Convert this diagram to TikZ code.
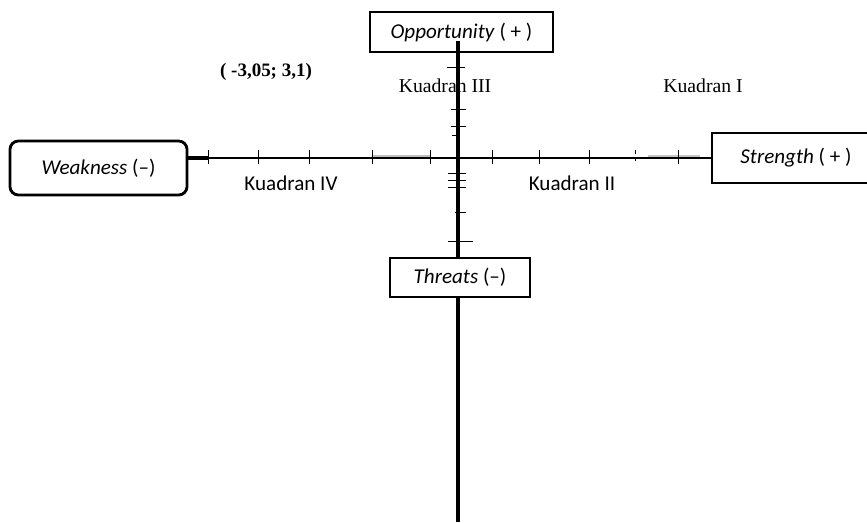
\documentclass[tikz,border=0pt]{standalone}
\usepackage{fontspec}
\setmainfont{Liberation Serif}
\newfontfamily\calibri{Carlito}
\usetikzlibrary{positioning}

\begin{document}
\begin{tikzpicture}[x=0.025cm,y=-0.025cm,
    kotak/.style={draw, line width=2pt, fill=white, inner sep=0pt, font=\calibri\fontsize{15}{17}\selectfont},
    tickmark/.style={line width=0.7pt},
    teks/.style={font=\fontsize{14}{16}\selectfont},
    teksb/.style={font=\calibri\fontsize{15}{17}\selectfont}]
  \useasboundingbox (0,0) rectangle (867,522);

  % Label kuadran
  \node[font=\bfseries\fontsize{13.5}{15}\selectfont] (koord) at (266,72) {( -3,05; 3,1)};
  \node[teks] (k3) at (445,86) {Kuadran III};
  \node[teks] (k1) at (703,86) {Kuadran I};
  \node[teksb] (k4) at (291,183) {Kuadran IV};
  \node[teksb] (k2) at (572,183) {Kuadran II};

  % Kotak SWOT
  \node[kotak, minimum width=4.575cm, minimum height=1cm] (opp) at (461.5,32) {\textit{Opportunity} ( + )};
  \node[kotak, rounded corners=6pt, minimum width=4.425cm, minimum height=1.35cm] (weak) at (98.5,168) {\textit{Weakness} (–)};
  \node[kotak, minimum width=4.2cm, minimum height=1.25cm] (str) at (796,158) {\textit{Strength} ( + )};
  \node[kotak, minimum width=3.5cm, minimum height=0.975cm] (thr) at (460,277.5) {\textit{Threats} (–)};
  \coordinate (bawah) at (458,522);

  % Bayangan sumbu
  \draw[line width=3.5pt, gray!50] (372,157) -- (430,157);
  \draw[line width=3.5pt, gray!45] (648,157) -- (700,157);
  \draw[line width=3pt] (weak.east |- str.west) -- ++(20,0);

  % Sumbu
  \draw[line width=1.3pt] (weak.east |- str.west) -- (str.west);
  \draw[line width=2.5pt] ([yshift=0.3cm]opp.south -| bawah) -- (thr.north -| bawah);
  \draw[line width=2.5pt] (thr.south -| bawah) -- (bawah);

  % Garis skala
  \foreach \x in {208,258,309,372,430,492,539,589,678}
    \draw[tickmark] (\x,150) -- (\x,164);
  \draw[tickmark, densely dashed] (635,150) -- (635,164);
  \foreach \y/\a/\b in {67/447/465, 109/451/466, 126/451/466, 135/452/458, 173/448/466, 180/448/466, 187/448/466, 212/455/466, 241/448/473}
    \draw[tickmark] (\a,\y) -- (\b,\y);
\end{tikzpicture}
\end{document}
